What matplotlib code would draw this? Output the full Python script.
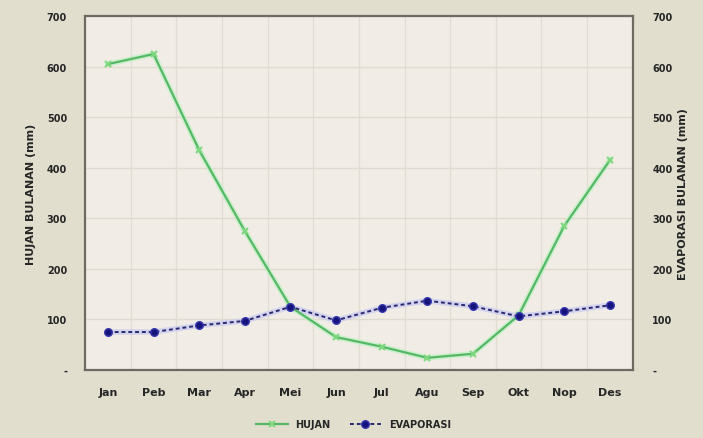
import matplotlib
matplotlib.use("Agg")
import matplotlib.pyplot as plt
from matplotlib.ticker import FixedLocator, FuncFormatter

months = ["Jan", "Peb", "Mar", "Apr", "Mei", "Jun", "Jul", "Agu", "Sep", "Okt", "Nop", "Des"]
hujan = [605, 625, 435, 275, 125, 65, 46, 24, 32, 108, 285, 415]
evaporasi = [75, 75, 88, 97, 125, 98, 123, 137, 126, 106, 116, 128]
y_ticks = [0, 100, 200, 300, 400, 500, 600, 700]

fig = plt.figure(figsize=(7.03, 4.39), dpi=100)
fig.patch.set_facecolor("#e2dece")
ax = fig.add_axes([0.121, 0.155, 0.779, 0.806])
ax.set_facecolor("#f1ede6")

x = list(range(len(months)))

ax.plot(x, hujan, color="#bff0c4", lw=4.0, alpha=0.7, zorder=2)
ax.plot(x, hujan, color="#55b865", lw=1.6, marker="x", ms=5, mew=1.5,
        mec="#7fd87f", label="HUJAN", zorder=3)
ax.plot(x, evaporasi, color="#c9c8f2", lw=4.0, alpha=0.7, zorder=2)
ax.plot(x, evaporasi, color="#28286e", lw=1.4, ls=(0, (2, 1.5)), marker="o",
        ms=5.5, mfc="#14147a", mec="#3a3ab0", label="EVAPORASI", zorder=4)

ax.set_xlim(-0.5, len(months) - 0.5)
ax.set_ylim(0, 700)
ax.set_xticks(x)
ax.set_xticklabels(months, fontsize=8, fontweight="bold", color="#262626")
ax.xaxis.set_minor_locator(FixedLocator([i + 0.5 for i in range(len(months) - 1)]))
ax.grid(which="minor", axis="x", color="#e2ddd2", lw=1.0)
ax.yaxis.set_major_locator(FixedLocator(y_ticks))
fmt = FuncFormatter(lambda v, p: "-" if v == 0 else f"{int(v)}")
ax.yaxis.set_major_formatter(fmt)
ax.grid(which="major", axis="y", color="#e0dbd0", lw=1.0)
ax.tick_params(axis="y", which="both", length=0, pad=13)
ax.tick_params(axis="x", which="both", length=0, pad=12)
for lab in ax.get_yticklabels():
    lab.set_fontsize(7)
    lab.set_fontweight("bold")
    lab.set_color("#262626")
ax.set_ylabel("HUJAN BULANAN (mm)", fontsize=8, fontweight="bold", color="#262626", labelpad=8)

for s in ax.spines.values():
    s.set_color("#6e6a62")
    s.set_linewidth(1.6)

ax2 = ax.twinx()
ax2.set_ylim(0, 700)
ax2.yaxis.set_major_locator(FixedLocator(y_ticks))
ax2.yaxis.set_major_formatter(fmt)
ax2.tick_params(axis="y", length=0, pad=14)
for lab in ax2.get_yticklabels():
    lab.set_fontsize(7)
    lab.set_fontweight("bold")
    lab.set_color("#262626")
ax2.set_ylabel("EVAPORASI BULANAN (mm)", fontsize=8, fontweight="bold", color="#262626",
               rotation=90, labelpad=4)
ax2.yaxis.set_label_position("right")
for s in ax2.spines.values():
    s.set_visible(False)

handles, labels = ax.get_legend_handles_labels()
leg = fig.legend(handles, labels, loc="center", bbox_to_anchor=(0.503, 0.032), ncol=2,
                 frameon=False, fontsize=7, handlelength=3.2, columnspacing=2.0)
for t in leg.get_texts():
    t.set_fontweight("bold")
    t.set_color("#262626")

fig.savefig("out.png", dpi=100, facecolor=fig.get_facecolor())
